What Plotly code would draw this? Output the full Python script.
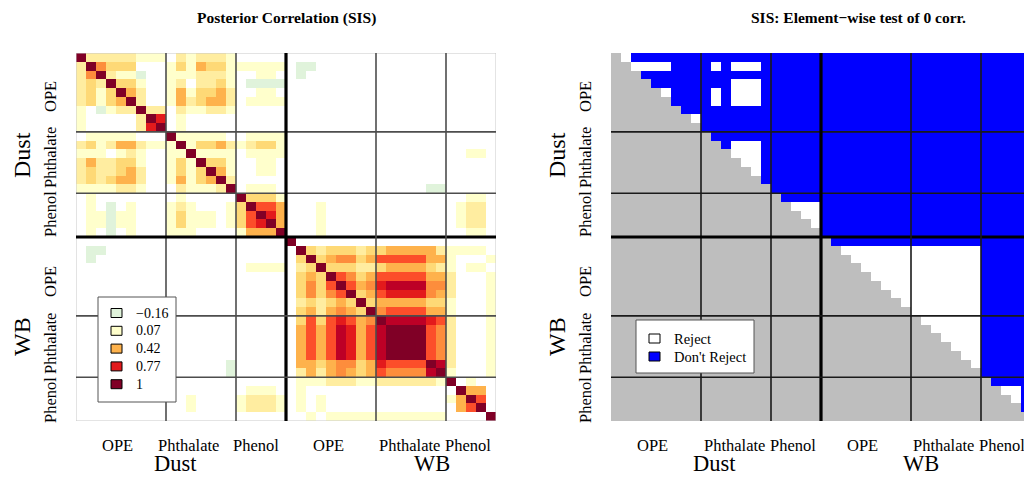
import plotly.graph_objects as go

W, H = 1024, 477
FONT = "Liberation Serif"

# ---------------- data ----------------
groups = ["OPE", "Phthalate", "Phenol"]
group_sizes = [9, 7, 5]
media = ["Dust", "WB"]

# colour level codes of the posterior correlation (upper triangle incl. diagonal; '-' = mirrored)
level_codes = [".", "g", "p", "l", "y", "o", "d", "r", "R", "c", "K"]
level_values = [0.0, -0.16, 0.07, 0.18, 0.30, 0.42, 0.55, 0.66, 0.77, 0.88, 1.0]

corr_rows = [
    "Klllllppp|.lplllp|.....|.........|.......|.....",
    "-Kdyyy...|pypoyyp|ppppp|.gg......|.......|.....",
    "--Klppg..|ppplllp|..pp.|.g.......|.......|.....",
    "---Kyyp..|pl.llyp|.gggg|.........|.......|.....",
    "----Kol..|popyyol|..pp.|.........|.......|.....",
    "-----Kl..|polyool|.pppp|.........|.......|.....",
    "------Kll|.lppllp|.....|.........|.......|.....",
    "-------KR|.p.....|.....|.........|.......|.....",
    "--------K|.p.....|.....|.........|.......|.....",
    "---------|Kppppp.|.pppp|.........|.......|.....",
    "---------|-Kpyyol|plyyp|.........|.......|.....",
    "---------|--Kpppp|.pppp|.........|.......|..pp.",
    "---------|---Kyyp|..pp.|.........|.......|.....",
    "---------|----Kop|..pp.|.........|.......|.....",
    "---------|-----Kl|.....|.........|.......|.....",
    "---------|------K|.ppp.|.........|.....gg|.....",
    "---------|-------|Kyyyp|.........|.......|..pp.",
    "---------|-------|-Krro|...p.....|.......|.pll.",
    "---------|-------|--KRo|...p.....|.......|.pll.",
    "---------|-------|---Ko|...p.....|.......|.pll.",
    "---------|-------|----K|...p.....|.......|..pp.",
    "---------|-------|-----|K........|.......|.....",
    "---------|-------|-----|-Kylyyyly|yoooool|pppp.",
    "---------|-------|-----|--Kyoddyo|rrrrroo|p...p",
    "---------|-------|-----|---Kyyyll|yooooyl|p.pp.",
    "---------|-------|-----|----Krdyo|rrrrroo|l...p",
    "---------|-------|-----|-----Krod|Rccccdd|l...p",
    "---------|-------|-----|------Kyo|rRRRRdo|l...p",
    "---------|-------|-----|-------Ky|oooooyy|p...p",
    "---------|-------|-----|--------K|drrrroo|p...p",
    "---------|-------|-----|---------|KccccRr|l...p",
    "---------|-------|-----|---------|-KKKKrd|l...p",
    "---------|-------|-----|---------|--KKKrd|l...p",
    "---------|-------|-----|---------|---KKrd|l...p",
    "---------|-------|-----|---------|----Krd|l...p",
    "---------|-------|-----|---------|-----Kc|l...p",
    "---------|-------|-----|---------|------K|p...p",
    "---------|-------|-----|---------|-------|K.p..",
    "---------|-------|-----|---------|-------|-Koo.",
    "---------|-------|-----|---------|-------|--Kr.",
    "---------|-------|-----|---------|-------|---K.",
    "---------|-------|-----|---------|-------|----K",
]

# element-wise test: '-' lower triangle (grey), 'w' Reject, 'b' Don't Reject
test_rows = [
    "-wbbbbbbb|bbbbbbb|bbbbb|bbbbbbbbb|bbbbbbb|bbbbb",
    "--wwwwbbb|bwbwwwb|bbbbb|bbbbbbbbb|bbbbbbb|bbbbb",
    "---bbbbbb|bbbbbbb|bbbbb|bbbbbbbbb|bbbbbbb|bbbbb",
    "----bbbbb|bbbwwwb|bbbbb|bbbbbbbbb|bbbbbbb|bbbbb",
    "-----wbbb|bwbwwwb|bbbbb|bbbbbbbbb|bbbbbbb|bbbbb",
    "------bbb|bwbwwwb|bbbbb|bbbbbbbbb|bbbbbbb|bbbbb",
    "-------bb|bbbbbbb|bbbbb|bbbbbbbbb|bbbbbbb|bbbbb",
    "--------w|bbbbbbb|bbbbb|bbbbbbbbb|bbbbbbb|bbbbb",
    "---------|bbbbbbb|bbbbb|bbbbbbbbb|bbbbbbb|bbbbb",
    "---------|-bbbbbb|bbbbb|bbbbbbbbb|bbbbbbb|bbbbb",
    "---------|--bwwwb|bbbbb|bbbbbbbbb|bbbbbbb|bbbbb",
    "---------|---wwwb|bbbbb|bbbbbbbbb|bbbbbbb|bbbbb",
    "---------|----wwb|bbbbb|bbbbbbbbb|bbbbbbb|bbbbb",
    "---------|-----wb|bbbbb|bbbbbbbbb|bbbbbbb|bbbbb",
    "---------|------b|bbbbb|bbbbbbbbb|bbbbbbb|bbbbb",
    "---------|-------|bbbbb|bbbbbbbbb|bbbbbbb|bbbbb",
    "---------|-------|-bbbb|bbbbbbbbb|bbbbbbb|bbbbb",
    "---------|-------|--www|bbbbbbbbb|bbbbbbb|bbbbb",
    "---------|-------|---ww|bbbbbbbbb|bbbbbbb|bbbbb",
    "---------|-------|----w|bbbbbbbbb|bbbbbbb|bbbbb",
    "---------|-------|-----|bbbbbbbbb|bbbbbbb|bbbbb",
    "---------|-------|-----|-bbbbbbbb|bbbbbbb|bbbbb",
    "---------|-------|-----|--wwwwwww|wwwwwww|bbbbb",
    "---------|-------|-----|---wwwwww|wwwwwww|bbbbb",
    "---------|-------|-----|----wwwww|wwwwwww|bbbbb",
    "---------|-------|-----|-----wwww|wwwwwww|bbbbb",
    "---------|-------|-----|------www|wwwwwww|bbbbb",
    "---------|-------|-----|-------ww|wwwwwww|bbbbb",
    "---------|-------|-----|--------w|wwwwwww|bbbbb",
    "---------|-------|-----|---------|wwwwwww|bbbbb",
    "---------|-------|-----|---------|-wwwwww|bbbbb",
    "---------|-------|-----|---------|--wwwww|bbbbb",
    "---------|-------|-----|---------|---wwww|bbbbb",
    "---------|-------|-----|---------|----www|bbbbb",
    "---------|-------|-----|---------|-----ww|bbbbb",
    "---------|-------|-----|---------|------w|bbbbb",
    "---------|-------|-----|---------|-------|bbbbb",
    "---------|-------|-----|---------|-------|-bbbb",
    "---------|-------|-----|---------|-------|--wwb",
    "---------|-------|-----|---------|-------|---wb",
    "---------|-------|-----|---------|-------|----b",
    "---------|-------|-----|---------|-------|-----",
]

legend_corr_labels = ["\u22120.16", "0.07", "0.42", "0.77", "1"]
legend_corr_codes = ["g", "p", "o", "R", "K"]
legend_test_labels = ["Reject", "Don't Reject"]

# ---------------- build matrices ----------------
code_to_val = dict(zip(level_codes, level_values))
crow = [r.replace("|", "") for r in corr_rows]
N = len(crow)
corr = [[0.0] * N for _ in range(N)]
for i in range(N):
    for j in range(i, N):
        v = code_to_val[crow[i][j]]
        corr[i][j] = v
        corr[j][i] = v

trow = [r.replace("|", "") for r in test_rows]
tmap = {"-": 0, "w": 1, "b": 2}
test = [[tmap[c] for c in r] for r in trow]

colors = {"g": "#e0f3db", ".": "#ffffff", "p": "#ffffcc", "l": "#ffeda0", "y": "#fed976",
          "o": "#feb24c", "d": "#fd8d3c", "r": "#fc4e2a", "R": "#e31a1c", "c": "#bd0026",
          "K": "#800026"}
zmin, zmax = -0.16, 1.0
pairs = sorted(((code_to_val[c], colors[c]) for c in level_codes))
cscale = [[(v - zmin) / (zmax - zmin), col] for v, col in pairs]

idx = list(range(N))

fig = go.Figure()
fig.add_trace(go.Heatmap(z=corr, x=idx, y=idx, colorscale=cscale, zmin=zmin, zmax=zmax,
                         showscale=False, xaxis="x", yaxis="y", hoverinfo="skip"))
fig.add_trace(go.Heatmap(z=test, x=idx, y=idx, zmin=0, zmax=2, showscale=False,
                         colorscale=[[0, "#bebebe"], [0.25, "#bebebe"], [0.25, "#ffffff"],
                                     [0.75, "#ffffff"], [0.75, "#0000ff"], [1, "#0000ff"]],
                         xaxis="x2", yaxis="y2", hoverinfo="skip"))

def px(x):
    return x / W

def py(y):
    return 1 - y / H

L0, L1 = 76, 496
R0 = 611
T0, B0 = 53, 421
ax = dict(showticklabels=False, ticks="", showgrid=False, zeroline=False, showline=False)
fig.update_layout(
    width=W, height=H, margin=dict(l=0, r=0, t=0, b=0),
    paper_bgcolor="white", plot_bgcolor="white",
    xaxis=dict(domain=[px(L0), px(L1)], range=[-0.5, N - 0.5], **ax),
    yaxis=dict(domain=[py(B0), py(T0)], range=[N - 0.5, -0.5], **ax),
    xaxis2=dict(domain=[px(R0), 1.0], range=[-0.5, -0.5 + (W - R0) / 10.0], anchor="y2", **ax),
    yaxis2=dict(domain=[py(B0), py(T0)], range=[N - 0.5, -0.5], anchor="x2", **ax),
    showlegend=False,
)

shapes = []
# frame of left panel
shapes.append(dict(type="rect", xref="x", yref="y", x0=-0.5, x1=N - 0.5, y0=-0.5, y1=N - 0.5,
                   line=dict(color="#c8c8c8", width=1)))
# block boundaries
bounds = []
acc = 0
for m in range(2):
    for s in group_sizes:
        acc += s
        bounds.append(acc - 0.5)
bounds = bounds[:-1]
for b in bounds:
    thick = abs(b - 20.5) < 1e-9
    for xr, yr, col, wthin in (("x", "y", "#4d4d4d", 1.6), ("x2", "y2", "#1a1a1a", 1.6)):
        w = 3.2 if thick else wthin
        c = "#000000" if thick else col
        shapes.append(dict(type="line", xref=xr, yref=yr, x0=b, x1=b, y0=-0.5, y1=N - 0.5,
                           line=dict(color=c, width=w)))
        shapes.append(dict(type="line", xref=xr, yref=yr, y0=b, y1=b, x0=-0.5, x1=N - 0.5,
                           line=dict(color=c, width=w)))

annotations = []

def text(x, y, s, size, angle=0, bold=False, anchor="center", pad=1, yanchor="middle"):
    annotations.append(dict(xref="paper", yref="paper", x=px(x), y=py(y), text=("<b>%s</b>" % s) if bold else s,
                            showarrow=False, textangle=angle, xanchor=anchor, yanchor=yanchor,
                            borderpad=pad,
                            font=dict(family=FONT, size=size, color="black")))

# titles
text(286, 18, "Posterior Correlation (SIS)", 15.5, bold=True)
text(858, 18, "SIS: Element\u2212wise test of 0 corr.", 15.5, bold=True)

# axis labels (left panel then right panel offset)
for off in (0, 535):
    for s, y in zip(groups + groups, [97, 158, 214, 282, 344, 400]):
        text(50 + off, y, s, 16.5, angle=-90)
    text(22 + off, 155, media[0], 24, angle=-90)
    text(22 + off, 337, media[1], 24, angle=-90)
# bottom labels
for s, x in zip(groups + groups, [117, 188, 256, 328, 409, 468]):
    text(x, 445, s, 16.5, pad=0)
text(175, 477, media[0], 22.5, pad=0, yanchor="bottom")
text(432, 477, media[1], 22.5, pad=0, yanchor="bottom")
for s, x in zip(groups + groups, [652, 734, 793, 862, 943, 1002]):
    text(x, 445, s, 16.5, pad=0)
text(714, 477, media[0], 22.5, pad=0, yanchor="bottom")
text(921, 477, media[1], 22.5, pad=0, yanchor="bottom")

# legend: correlation
shapes.append(dict(type="rect", xref="paper", yref="paper", x0=px(98), x1=px(176), y0=py(402), y1=py(297),
                   line=dict(color="#555555", width=1), fillcolor="white", layer="above"))
for k, (lab, code) in enumerate(zip(legend_corr_labels, legend_corr_codes)):
    yc = 313 + 17.8 * k
    shapes.append(dict(type="rect", xref="paper", yref="paper", x0=px(111), x1=px(122),
                       y0=py(yc + 4.5), y1=py(yc - 4.5), line=dict(color="black", width=1),
                       fillcolor=colors[code], layer="above"))
    text(134, yc, lab, 14, anchor="left")

# legend: test
shapes.append(dict(type="rect", xref="paper", yref="paper", x0=px(636), x1=px(754), y0=py(373), y1=py(320),
                   line=dict(color="#555555", width=1), fillcolor="white", layer="above"))
for k, (lab, col) in enumerate(zip(legend_test_labels, ["#ffffff", "#0000ff"])):
    yc = 338.5 + 18 * k
    shapes.append(dict(type="rect", xref="paper", yref="paper", x0=px(649), x1=px(660),
                       y0=py(yc + 4.5), y1=py(yc - 4.5), line=dict(color="black", width=1),
                       fillcolor=col, layer="above"))
    text(672, yc, lab, 14.5, anchor="left")

fig.update_layout(shapes=shapes, annotations=annotations)
fig.write_html("out.html", config={"displayModeBar": False},
               post_script="document.body.style.margin='0';document.body.style.overflow='hidden';")
